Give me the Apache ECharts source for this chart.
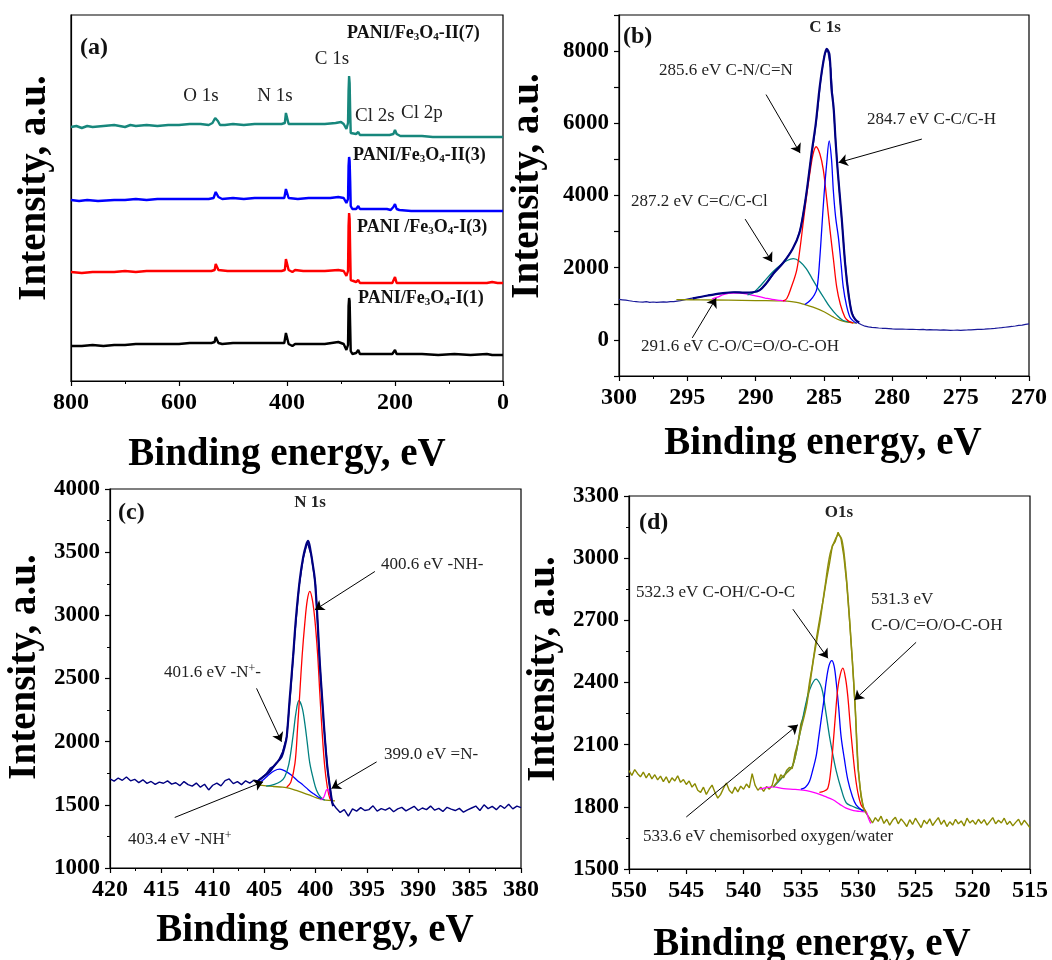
<!DOCTYPE html>
<html>
<head>
<meta charset="utf-8">
<script src="https://cdn.jsdelivr.net/npm/echarts@6/dist/echarts.min.js"></script>
<style>html,body{margin:0;padding:0;background:#fff}#c{width:1052px;height:960px}</style>
</head>
<body>
<div id="c"></div>
<script>
// ---------------- DATA ----------------
// (a) survey spectra, [binding energy eV, intensity a.u.]
const surveyI1 = [[800,35],[780,35],[760,36],[740,35],[720,36],[700,36],[680,37],[660,37],[640,37],[620,37],[600,37],[580,38],[560,38],[540,38],[534,39],[532,44],[530,44],[527,38],[520,37],[500,38],[480,38],[460,38],[440,38],[420,38],[405,38],[402,48],[399,49],[397,37],[390,35],[385,37],[370,37],[350,37],[330,37],[305,39],[295,37],[290,31],[287,36],[286,75],[285,83],[284,80],[283,55],[282,30],[279,27],[272,28],[268,31],[265,27],[240,27],[215,27],[205,27],[200,31],[197,27],[180,27],[150,27],[120,26],[90,27],[60,26],[30,27],[20,26],[0,26]];
const surveyI3 = [[800,109],[780,108],[760,109],[740,109],[720,109],[700,110],[680,109],[660,110],[640,110],[620,110],[600,110],[580,110],[560,110],[540,110],[534,111],[532,117],[530,117],[527,111],[510,110],[490,110],[470,110],[450,110],[430,110],[410,110],[404,111],[402,122],[399,123],[397,111],[390,109],[385,111],[370,110],[350,110],[330,110],[305,111],[295,110],[290,105],[287,110],[286,155],[285,168],[284,162],[283,130],[282,101],[279,99],[272,99],[268,101],[265,98],[240,98],[215,98],[205,98],[200,104],[197,98],[180,98],[150,98],[120,98],[90,98],[60,98],[30,98],[20,99],[10,98],[0,98]];
const surveyII3 = [[800,181],[785,180],[770,181],[750,180],[720,181],[700,181],[680,182],[660,181],[640,182],[620,182],[600,182],[580,182],[560,182],[545,182],[536,183],[532,189],[530,190],[527,184],[520,182],[500,183],[480,182],[460,183],[440,183],[420,183],[405,183],[402,192],[399,193],[397,183],[380,182],[360,183],[340,183],[320,183],[305,184],[295,183],[290,178],[287,182],[286,215],[285,224],[284,220],[283,200],[282,175],[279,172],[272,172],[268,175],[265,172],[250,172],[230,172],[215,172],[208,171],[203,174],[200,177],[197,172],[192,171],[170,170],[150,170],[130,170],[100,170],[60,170],[30,170],[0,170]];
const surveyII7 = [[800,254],[790,255],[780,253],[770,255],[760,254],[740,255],[720,256],[700,254],[690,256],[680,255],[660,256],[640,255],[620,256],[600,256],[580,257],[560,257],[545,256],[538,258],[533,263],[531,265],[528,260],[524,256],[515,256],[500,257],[480,256],[460,257],[440,257],[420,257],[410,257],[404,258],[402,268],[399,268],[397,257],[390,257],[370,257],[350,257],[330,257],[310,258],[300,259],[295,257],[290,252],[287,258],[286,290],[285,305],[284,298],[283,270],[282,248],[279,247],[272,247],[268,249],[265,246],[250,246],[230,246],[210,246],[203,247],[200,251],[197,247],[190,245],[170,245],[150,245],[130,244],[100,244],[80,244],[60,244],[40,244],[20,244],[5,244],[2,246],[0,244]];

// (b) C 1s
const c1sStart = 300, c1sStep = 0.25;
const c1sRaw = [1120,1110,1100,1085, 1070,1062,1050,1045, 1058,1042,1050,1040, 1048,1055,1045,1060,
  1060,1075,1090,1110, 1130,1150,1165,1180, 1195,1210,1230,1250, 1262,1275,1290,1302,
  1312,1318,1322,1318, 1312,1308,1305,1315, 1340,1375,1440,1540, 1660,1800,1930,2040,
  2140,2260,2400,2560, 2750,3050,3550,4150, 4900,5500,6250,7150, 7850,8060,7500,6100,
  4700,3550,2350,1400, 800,560,470,420, 380,360,345,340, 330,322,318,312,
  305,300,298,302, 295,290,292,288, 285,290,280,282, 275,278,272,275, 270,262,268,270,
  265,272,275,280, 285,290,292,298, 305,312,320,330, 338,350,362,372, 385,400,410,430, 445];
const c1sEnvelope = [[294.6,1150],[293.5,1230],[292.5,1290],[291.6,1320],[290.8,1310],[290.2,1320],[289.7,1380],[289.2,1580],[288.7,1840],[288.0,2130],[287.3,2520],[286.8,2960],[286.45,3650],[286.2,4300],[285.9,5200],[285.6,6000],[285.3,7050],[285.0,7800],[284.8,8060],[284.6,7900],[284.45,6950],[284.3,6450],[284.15,5500],[284.0,4700],[283.7,3350],[283.44,2050],[283.2,1250],[282.96,740],[282.7,560],[282.42,480]];
const c1sBkg = [[295.8,1113],[294,1110],[292,1100],[290,1090],[288.5,1080],[287.7,1074],[287,1040],[286.5,990],[285.8,907],[285,780],[284.3,629],[283.8,540],[283.3,490],[282.6,462]];
const c1s2916 = [[293.2,1130],[292.8,1185],[292.3,1260],[291.7,1295],[291.14,1297],[290.6,1270],[290,1220],[289.3,1160],[288.8,1120],[288.2,1095],[287.8,1078]];
const c1s2872 = [[290.6,1250],[290.2,1300],[289.7,1480],[289.2,1697],[288.7,1900],[288.2,2067],[287.7,2200],[287.24,2253],[286.8,2180],[286.3,1975],[285.9,1720],[285.5,1463],[285.0,1160],[284.56,907],[284.1,700],[283.6,537],[282.98,490]];
const c1s2856 = [[288.0,1080],[287.73,1140],[287.4,1450],[287.0,1928],[286.75,2550],[286.5,3318],[286.25,4050],[286.0,4709],[285.8,5150],[285.58,5350],[285.3,5150],[285.05,4709],[284.8,3900],[284.56,3040],[284.3,2200],[284.07,1463],[283.8,980],[283.47,629],[283.2,520],[282.86,462]];
const c1s2847 = [[286.4,982],[286.0,1100],[285.7,1250],[285.5,1450],[285.3,2300],[285.17,3040],[285.0,4000],[284.8,4900],[284.62,5510],[284.45,5000],[284.32,4153],[284.15,3400],[283.95,2854],[283.75,2100],[283.59,1463],[283.35,950],[283.1,629],[282.85,520],[282.6,462]];
const arrowsC1s = [[[289.24,6796],[286.75,5174]],[[277.84,5563],[283.93,4912]],[[290.77,3346],[288.8,2159]],[[294.64,56],[292.89,1157]]];

// (c) N 1s
const n1sStart = 420, n1sStep = 0.4;
const n1sRaw = [1705,1688,1712,1694,1720,1690,1702,1676,1698,1670,
  1685,1662,1680,1671,1690,1664,1675,1652,1684,1660,
  1648,1672,1640,1663,1618,1655,1672,1650,1692,1705,
  1668,1684,1660,1690,1672,1695,1690,1715,1745,1790,
  1808,1850,1920,2040,2420,2860,3230,3450,3580,3470,
  3240,2640,2140,1760,1520,1475,1440,1462,1410,1468,
  1450,1478,1455,1462,1492,1450,1470,1458,1476,1445,
  1468,1480,1452,1470,1488,1455,1475,1462,1490,1458,
  1472,1448,1480,1466,1455,1472,1442,1460,1475,1490,
  1455,1500,1470,1488,1462,1495,1472,1505,1468,1490,1478];
const n1sEnvelope = [[405.7,1682],[405.1,1722],[404.5,1760],[404.1,1801],[403.6,1850],[403.3,1880],[403.0,1960],[402.8,2039],[402.5,2350],[402.18,2673],[401.9,2980],[401.53,3281],[401.2,3460],[400.9,3560],[400.72,3590],[400.5,3520],[400.3,3420],[400.06,3281],[399.8,2960],[399.58,2620],[399.3,2280],[399.1,2039],[398.85,1800],[398.6,1642],[398.4,1530],[398.28,1490]];
const n1sBkg = [[405.74,1660],[404.8,1650],[404.1,1645],[403.2,1640],[402.5,1630],[401.8,1612],[401.2,1595],[400.55,1576],[399.9,1556],[399.26,1542],[398.7,1535],[398.1,1531]];
const n1s4034 = [[405.74,1660],[405.2,1690],[404.6,1735],[404.0,1770],[403.47,1782],[402.9,1765],[402.33,1735],[401.8,1695],[401.2,1656],[400.7,1620],[400.23,1590],[399.7,1560],[399.26,1542]];
const n1s4016 = [[404.8,1648],[404.0,1662],[403.4,1685],[403.0,1720],[402.6,1820],[402.18,2050],[401.9,2230],[401.62,2324],[401.3,2270],[401.04,2145],[400.8,1990],[400.55,1828],[400.2,1700],[399.9,1616],[399.5,1560],[399.1,1536]];
const n1s4006 = [[402.8,1640],[402.4,1680],[402.0,1828],[401.75,2100],[401.53,2383],[401.3,2680],[401.04,2938],[400.8,3120],[400.55,3190],[400.3,3120],[400.06,2964],[399.8,2700],[399.58,2383],[399.35,2070],[399.1,1801],[398.85,1640],[398.6,1550],[398.4,1530]];
const n1s3990 = [[399.5,1538],[399.2,1560],[398.95,1615],[398.8,1625],[398.6,1580],[398.4,1535],[398.3,1525]];
const arrowsN1s = [[[394.22,3347],[400.06,3043]],[[405.74,2422],[403.31,1999]],[[394.05,1840],[398.44,1630]],[[413.7,1400],[405.1,1682]]];

// (d) O 1s
const o1sStart = 550, o1sStep = 0.25;
const o1sRaw = [1975,1952,1980,1960,1945,1968,1940,1962,1935,1955,
  1930,1948,1922,1945,1915,1940,1925,1950,1918,1932,
  1908,1925,1895,1912,1880,1870,1895,1860,1885,1905,
  1870,1842,1860,1890,1915,1880,1865,1895,1872,1900,
  1885,1910,1892,1960,1905,1880,1895,1875,1898,1885,
  1905,1960,1920,1955,1940,1975,1990,1985,2060,2110,
  2200,2240,2300,2400,2480,2575,2660,2740,2815,2900,
  2975,3060,3080,3125,3095,3010,2880,2700,2500,2270,
  1990,1850,1790,1765,1745,1722,1748,1730,1755,1720,
  1740,1712,1735,1750,1718,1742,1725,1705,1738,1715,
  1745,1722,1700,1735,1718,1742,1710,1730,1748,1715,
  1736,1705,1728,1712,1740,1718,1732,1708,1745,1722,
  1735,1715,1740,1720,1738,1712,1730,1748,1718,1735,
  1722,1745,1715,1730,1708,1725,1740,1712,1735,1718,1698];
const o1sEnvelope = [[537.4,1896],[537.0,1925],[536.3,1960],[535.7,2000],[535.1,2150],[534.5,2290],[533.9,2510],[533.3,2705],[532.9,2860],[532.45,3020],[532.0,3090],[531.72,3112],[531.42,3088],[531.14,2975],[530.85,2783],[530.55,2541],[530.26,2284],[530.0,1980],[529.6,1810],[529.3,1770]];
const o1sBkg = [[538.6,1886],[537.4,1896],[536.5,1888],[535.5,1884],[534.5,1878],[533.67,1866],[532.9,1850],[532.2,1834],[531.6,1812],[531.05,1794],[530.4,1782],[529.89,1778],[529.3,1775],[529.1,1745],[528.9,1720]];
const o1s5336 = [[537.4,1896],[536.8,1930],[536.3,1963],[535.7,2000],[535.1,2150],[534.6,2290],[534.2,2370],[533.67,2416],[533.3,2390],[533.08,2350],[532.8,2250],[532.5,2140],[532.2,2050],[531.92,1975],[531.5,1890],[531.05,1820],[530.6,1805],[530.18,1795],[529.45,1780]];
const o1s5323 = [[535.0,1885],[534.6,1895],[534.25,1922],[533.95,1980],[533.67,2043],[533.45,2130],[533.23,2220],[533.0,2310],[532.79,2405],[532.55,2480],[532.3,2506],[532.1,2480],[531.92,2405],[531.7,2280],[531.49,2140],[531.2,2030],[530.9,1930],[530.5,1850],[530.18,1810],[529.59,1780]];
const o1s5313 = [[533.38,1870],[533.0,1875],[532.65,1890],[532.4,1970],[532.2,2091],[532.0,2230],[531.78,2370],[531.55,2440],[531.34,2469],[531.1,2420],[530.9,2332],[530.7,2200],[530.46,2059],[530.25,1950],[530.03,1870],[529.75,1810],[529.45,1788],[529.3,1776]];
const o1sRawPeakRange = [529.3, 537.4];
const arrowsO1s = [[[535.7,2754],[532.64,2517]],[[524.94,2594],[530.32,2316]],[[545.0,1751],[535.26,2196]]];

// axis ranges / ticks
const axA = {xmin:0, xmax:800, xint:200, ymin:0, ymax:366};
const axB = {xmin:270, xmax:300, xint:5, ymin:-1000, ymax:9000, yint:1000};
const axC = {xmin:380, xmax:420, xint:5, ymin:1000, ymax:4000, yint:500};
const axD = {xmin:515, xmax:550, xint:5, ymin:1500, ymax:3300, yint:300};

// ---------------- CHART ----------------
const FONT = '"Liberation Serif","Times New Roman",serif';
const gridPos = [
  {left:71, top:15, width:432, height:366},
  {left:619, top:15, width:410, height:361},
  {left:110, top:489, width:411, height:379},
  {left:629, top:496, width:401, height:373}
];
const grid = gridPos.map(g => Object.assign({show:true, borderColor:'#000', borderWidth:1.2, backgroundColor:'rgba(0,0,0,0)'}, g));

function xAx(gi, a){
  return {gridIndex:gi, type:'value', min:a.xmin, max:a.xmax, interval:a.xint, inverse:true,
    axisLine:{show:true, onZero:false, lineStyle:{color:'#000', width:1.2}},
    axisTick:{show:true, inside:false, length:5, lineStyle:{color:'#000', width:1.2}},
    minorTick:{show:true, splitNumber:2, length:3, lineStyle:{color:'#000', width:1}},
    splitLine:{show:false}, minorSplitLine:{show:false},
    axisLabel:{color:'#000', fontFamily:FONT, fontWeight:'bold', fontSize:24, margin:10, showMinLabel:true, showMaxLabel:true,
      formatter: v => String(v)}};
}
function yAx(gi, a, fmt){
  const o = {gridIndex:gi, type:'value', min:a.ymin, max:a.ymax,
    axisLine:{show:true, onZero:false, lineStyle:{color:'#000', width:1.2}},
    axisTick:{show:true, inside:false, length:5, lineStyle:{color:'#000', width:1.2}},
    minorTick:{show:true, splitNumber:2, length:3, lineStyle:{color:'#000', width:1}},
    splitLine:{show:false}, minorSplitLine:{show:false},
    axisLabel:{color:'#000', fontFamily:FONT, fontWeight:'bold', fontSize:23, margin:10, showMinLabel:true, showMaxLabel:true,
      formatter: fmt || (v => String(v))}};
  if (a.yint) o.interval = a.yint;
  return o;
}
const xAxis = [xAx(0,axA), xAx(1,axB), xAx(2,axC), xAx(3,axD)];
const yA = yAx(0, axA); yA.axisTick.show=false; yA.minorTick.show=false; yA.axisLabel.show=false;
const yB = yAx(1, axB, v => (v >= 0 && v % 2000 === 0) ? String(v) : '');
yB.minorTick.show = false;
const yAxis = [yA, yB, yAx(2,axC), yAx(3,axD)];

function onGrid(start, step, vals){ return vals.map((v,i) => [+(start - step*i).toFixed(3), v]); }
function line(gi, data, color, width, opts){
  return Object.assign({type:'line', xAxisIndex:gi, yAxisIndex:gi, data, symbol:'none', showSymbol:false,
    lineStyle:{color, width}, itemStyle:{color}, animation:false, silent:true, clip:true, z:2}, opts||{});
}
function arrows(list){
  return {silent:true, symbol:['none','arrow'], symbolSize:9, animation:false,
    lineStyle:{color:'#000', width:1, type:'solid'}, label:{show:false}, emphasis:{disabled:true},
    data: list.map(p => [{coord:p[0]}, {coord:p[1]}])};
}
const SM = {smooth:0.35};
const NAVY = '#000080', OLIVE = '#8a8a00', TEAL = '#008080', MAG = '#ff00ff';

const series = [
  line(0, surveyI1, '#000', 2.4),
  line(0, surveyI3, '#ff0000', 2.4),
  line(0, surveyII3, '#0000ff', 2.4),
  line(0, surveyII7, '#17877c', 2.4),

  line(1, onGrid(c1sStart, c1sStep, c1sRaw), '#1a1a9a', 1.2, {markLine: arrows(arrowsC1s)}),
  line(1, c1sBkg, OLIVE, 1.3, SM),
  line(1, c1s2916, MAG, 1.3, SM),
  line(1, c1s2872, TEAL, 1.3, SM),
  line(1, c1s2856, '#ff0000', 1.3, SM),
  line(1, c1s2847, '#0000ff', 1.3, SM),
  line(1, c1sEnvelope, NAVY, 2.2, Object.assign({z:3}, SM)),

  line(2, onGrid(n1sStart, n1sStep, n1sRaw), NAVY, 1.4, {markLine: arrows(arrowsN1s)}),
  line(2, n1sBkg, OLIVE, 1.3, SM),
  line(2, n1s4034, '#0000ff', 1.3, SM),
  line(2, n1s4016, TEAL, 1.3, SM),
  line(2, n1s4006, '#ff0000', 1.3, SM),
  line(2, n1s3990, MAG, 1.3, SM),
  line(2, n1sEnvelope, NAVY, 2.2, Object.assign({z:3}, SM)),

  line(3, onGrid(o1sStart, o1sStep, o1sRaw), OLIVE, 1.4, {markLine: arrows(arrowsO1s)}),
  line(3, o1sBkg, MAG, 1.3, SM),
  line(3, o1s5336, TEAL, 1.3, SM),
  line(3, o1s5323, '#0000ff', 1.3, SM),
  line(3, o1s5313, '#ff0000', 1.3, SM),
  line(3, o1sEnvelope, '#8f8f10', 1.5, Object.assign({z:3}, SM))
];
const o1sRawIndex = 18;

function txt(x, y, text, opt){
  const st = Object.assign({text, fill:'#222', font:'17px ' + FONT, align:'left', verticalAlign:'middle', textAlign:'left', textVerticalAlign:'middle'}, opt||{});
  if (st.align && !(opt && opt.textAlign)) st.textAlign = st.align;
  if (st.verticalAlign && !(opt && opt.textVerticalAlign)) st.textVerticalAlign = st.verticalAlign;
  return {type:'text', x, y, silent:true, z:100, style:st};
}
const boldTitle = 'bold 39px ' + FONT;
function ytitle(x, y){ return Object.assign(txt(x, y, 'Intensity, a.u.', {font:boldTitle, fill:'#000', align:'center'}), {rotation:Math.PI/2}); }
function xtitle(x, y){ return txt(x, y, 'Binding energy, eV', {font:boldTitle, fill:'#000', align:'center'}); }
const subRich = {
  t:{fontFamily:FONT, fontWeight:'bold', fontSize:18, lineHeight:20, fill:'#111'},
  s:{fontFamily:FONT, fontWeight:'bold', fontSize:11, lineHeight:8, verticalAlign:'bottom', fill:'#111'}
};
function sample(x, y, a, b){
  return txt(x, y, '{t|' + a + '}{s|3}{t|O}{s|4}{t|' + b + '}', {rich:subRich, font:'bold 18px ' + FONT});
}
const supRich = {
  t:{fontFamily:FONT, fontSize:17, lineHeight:20, fill:'#222'},
  p:{fontFamily:FONT, fontSize:12, lineHeight:8, verticalAlign:'top', fill:'#222'}
};
const panelFont = 'bold 24px ' + FONT;
const graphic = [
  // (a)
  ytitle(35, 188), xtitle(287, 455),
  txt(80, 48, '(a)', {font:panelFont, fill:'#111'}),
  sample(347, 33, 'PANI/Fe', '-II(7)'),
  sample(353, 155, 'PANI/Fe', '-II(3)'),
  sample(357, 227, 'PANI /Fe', '-I(3)'),
  sample(358, 298, 'PANI/Fe', '-I(1)'),
  txt(332, 59, 'C 1s', {font:'19px ' + FONT, align:'center'}),
  txt(201, 96, 'O 1s', {font:'19px ' + FONT, align:'center'}),
  txt(275, 96, 'N 1s', {font:'19px ' + FONT, align:'center'}),
  txt(355, 116, 'Cl 2s', {font:'19px ' + FONT}),
  txt(401, 113, 'Cl 2p', {font:'19px ' + FONT}),
  // (b)
  ytitle(528, 186), xtitle(823, 444),
  txt(623, 37, '(b)', {font:panelFont, fill:'#111'}),
  txt(825, 28, 'C 1s', {font:'bold 17px ' + FONT, align:'center'}),
  txt(659, 71, '285.6 eV C-N/C=N'),
  txt(867, 120, '284.7 eV C-C/C-H'),
  txt(631, 202, '287.2 eV C=C/C-Cl'),
  txt(641, 347, '291.6 eV C-O/C=O/O-C-OH'),
  // (c)
  ytitle(25, 667), xtitle(315, 931),
  txt(118, 513, '(c)', {font:panelFont, fill:'#111'}),
  txt(310, 503, 'N 1s', {font:'bold 17px ' + FONT, align:'center'}),
  txt(381, 565, '400.6 eV -NH-'),
  txt(164, 673, '{t|401.6 eV -N}{p|+}{t|-}', {rich:supRich}),
  txt(384, 755, '399.0 eV =N-'),
  txt(128, 840, '{t|403.4 eV -NH}{p|+}', {rich:supRich}),
  // (d)
  ytitle(544, 669), xtitle(812, 945),
  txt(639, 523, '(d)', {font:panelFont, fill:'#111'}),
  txt(839, 513, 'O1s', {font:'bold 17px ' + FONT, align:'center'}),
  txt(636, 593, '532.3 eV C-OH/C-O-C'),
  txt(871, 600, '531.3 eV'),
  txt(871, 626, 'C-O/C=O/O-C-OH'),
  txt(643, 837, '533.6 eV chemisorbed oxygen/water')
];

const chart = echarts.init(document.getElementById('c'), null, {renderer:'canvas'});
chart.setOption({
  backgroundColor:'#fff',
  animation:false,
  grid, xAxis, yAxis, series, graphic,
  visualMap:[{type:'piecewise', show:false, seriesIndex:o1sRawIndex, dimension:0,
    pieces:[{gte:o1sRawPeakRange[0], lte:o1sRawPeakRange[1], color:'#111'}],
    outOfRange:{color:OLIVE}}]
});
</script>
</body>
</html>
